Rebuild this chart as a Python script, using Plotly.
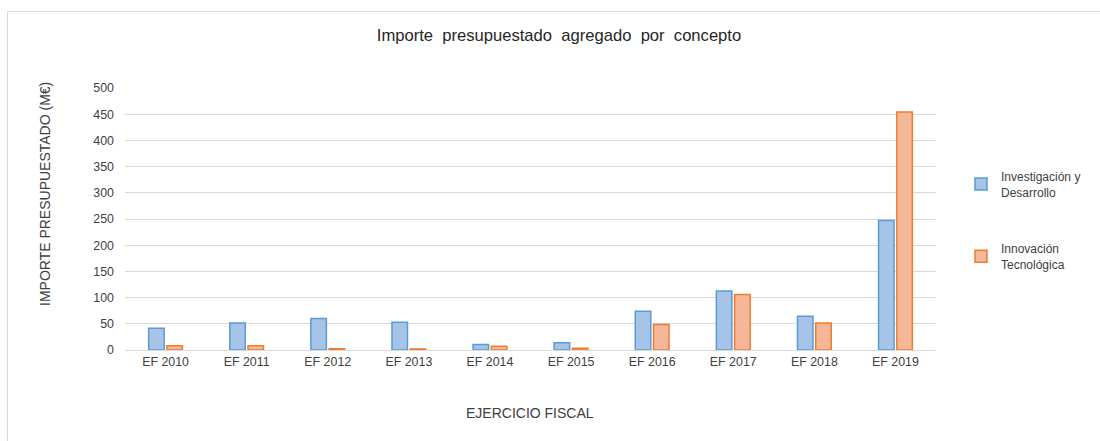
import plotly.graph_objects as go

categories = ["EF 2010", "EF 2011", "EF 2012", "EF 2013", "EF 2014",
              "EF 2015", "EF 2016", "EF 2017", "EF 2018", "EF 2019"]
id_values = [41.5, 51.7, 60, 53, 10.4, 13.6, 74, 112.7, 64.3, 247]
it_values = [8.3, 8.3, 2.5, 2, 7, 3.2, 48.7, 105.7, 51.6, 454]
series_names = ["Investigación y<br>Desarrollo", "Innovación<br>Tecnológica"]
y_ticks = [0, 50, 100, 150, 200, 250, 300, 350, 400, 450, 500]

FONT = "Liberation Sans, Arial, sans-serif"

fig = go.Figure()
fig.add_trace(go.Bar(
    x=categories, y=id_values, name=series_names[0], legendgroup="a",
    marker=dict(color="#a6c3e8", line=dict(color="#5b9bd5", width=1.5)),
))
fig.add_trace(go.Bar(
    x=categories, y=it_values, name=series_names[1], legendgroup="b",
    marker=dict(color="#f6b698", line=dict(color="#ed7d31", width=1.5)),
))

W, H = 1100, 441
L, R, T, B = 125, 164, 88, 91
pw = W - L - R
ph = H - T - B

def px_to_paper_x(x):
    return (x - L) / pw

def px_to_paper_y(y):
    return (H - B - y) / ph

fig.update_layout(
    width=W, height=H,
    margin=dict(l=L, r=R, t=T, b=B, autoexpand=False),
    paper_bgcolor="white", plot_bgcolor="white",
    font=dict(family=FONT, size=12, color="#595959"),
    barmode="group", bargap=0.55, bargroupgap=0.15,
    title=dict(text="Importe  presupuestado  agregado  por  concepto",
               x=px_to_paper_x(559), xref="paper", xanchor="center",
               y=1 - 35 / H, yanchor="middle",
               font=dict(family=FONT, size=16.6, color="#262626")),
    xaxis=dict(showgrid=False, showline=True, linecolor="#d9d9d9", linewidth=1,
               ticks="", tickfont=dict(size=12.4, color="#404040")),
    yaxis=dict(range=[0, 500], tickvals=y_ticks, showgrid=True,
               gridcolor="#d9d9d9", gridwidth=1, zeroline=False,
               showline=False, ticks="", ticklabelstandoff=10,
               tickfont=dict(size=12.4, color="#404040")),
    legend=dict(x=px_to_paper_x(961), y=px_to_paper_y(162), xanchor="left",
                yanchor="top", tracegroupgap=38, itemwidth=30,
                font=dict(size=12, color="#404040"), bgcolor="rgba(0,0,0,0)"),
    showlegend=True,
)

fig.add_annotation(text="IMPORTE PRESUPUESTADO (M€)", xref="paper", yref="paper",
                   x=px_to_paper_x(45), y=px_to_paper_y(194), textangle=-90,
                   showarrow=False, xanchor="center", yanchor="middle",
                   font=dict(size=14, color="#404040"))
fig.add_annotation(text="EJERCICIO FISCAL", xref="paper", yref="paper",
                   x=px_to_paper_x(530), y=px_to_paper_y(413),
                   showarrow=False, xanchor="center", yanchor="middle",
                   font=dict(size=14, color="#404040"))

fig.add_shape(type="rect", xref="paper", yref="paper",
              x0=px_to_paper_x(7.5), x1=px_to_paper_x(1105),
              y0=px_to_paper_y(446), y1=px_to_paper_y(11.5),
              line=dict(color="#d9d9d9", width=1), fillcolor="rgba(0,0,0,0)",
              layer="below")

fig.write_html("out.html",
               config={"displayModeBar": False},
               post_script="document.body.style.margin='0';document.body.style.overflow='hidden';")
